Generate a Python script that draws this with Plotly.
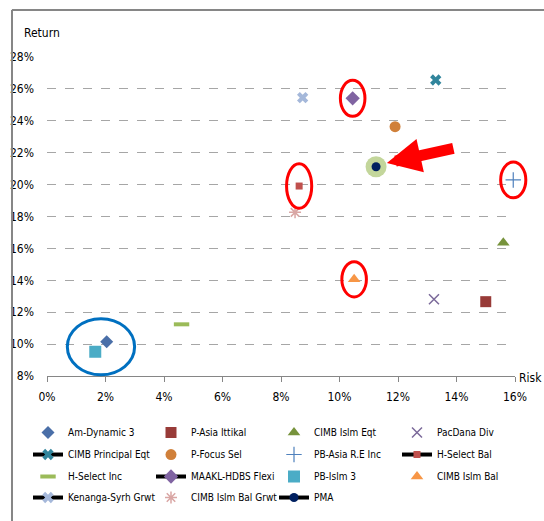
import plotly.graph_objects as go

# ---- data ----
fund_names = ["Am-Dynamic 3", "P-Asia Ittikal", "CIMB Islm Eqt", "PacDana Div",
              "CIMB Principal Eqt", "P-Focus Sel", "PB-Asia R.E Inc", "H-Select Bal",
              "H-Select Inc", "MAAKL-HDBS Flexi", "PB-Islm 3", "CIMB Islm Bal",
              "Kenanga-Syrh Grwt", "CIMB Islm Bal Grwt", "PMA"]
risk_pct = [2.04, 15.0, 15.6, 13.23, 13.29, 11.9, 15.94, 8.62,
            4.6, 10.45, 1.65, 10.5, 8.74, 8.48, 11.25]
return_pct = [10.15, 12.66, 16.36, 12.81, 26.56, 23.63, 20.29, 19.91,
              11.24, 25.41, 9.52, 14.06, 25.45, 18.26, 21.12]
x_ticks = [0, 2, 4, 6, 8, 10, 12, 14, 16]
y_ticks = [8, 10, 12, 14, 16, 18, 20, 22, 24, 26, 28]
X_RANGE = [0, 16]
Y_RANGE = [8, 28]

# ---- styles ----
styles = {
    "Am-Dynamic 3": dict(symbol="diamond", color="#4A6FA8", size=10),
    "P-Asia Ittikal": dict(symbol="square", color="#983B38", size=11),
    "CIMB Islm Eqt": dict(symbol="triangle-up", color="#77933C", size=11),
    "PacDana Div": dict(symbol="x-thin", color="#7B6A9A", size=10, lw=1.5),
    "CIMB Principal Eqt": dict(symbol="x", color="#31859C", size=10, line=True),
    "P-Focus Sel": dict(symbol="circle", color="#D0803A", size=11),
    "PB-Asia R.E Inc": dict(symbol="cross-thin", color="#4F81BD", size=11, lw=1.2),
    "H-Select Bal": dict(symbol="square", color="#C0504D", size=7, line=True),
    "H-Select Inc": dict(symbol="line-ew", color="#9BBB59", size=11, lw=4),
    "MAAKL-HDBS Flexi": dict(symbol="diamond", color="#8064A2", size=11, line=True),
    "PB-Islm 3": dict(symbol="square", color="#4BACC6", size=12),
    "CIMB Islm Bal": dict(symbol="triangle-up", color="#F79646", size=11),
    "Kenanga-Syrh Grwt": dict(symbol="x", color="#A5B8DA", size=10, line=True),
    "CIMB Islm Bal Grwt": dict(symbol="asterisk", color="#D9A6A4", size=10, lw=1.5),
    "PMA": dict(symbol="circle", color="#002060", size=9, line=True),
}

FONT = "DejaVu Sans Condensed, Liberation Sans Narrow, Liberation Sans, Arial, sans-serif"
fig = go.Figure()

legend_ids = ["legend", "legend2", "legend3", "legend4"]
for k, (name, rx, ry) in enumerate(zip(fund_names, risk_pct, return_pct)):
    st = styles[name]
    leg = legend_ids[k // 4]
    if name == "PMA":
        fig.add_trace(go.Scatter(x=[rx], y=[ry], mode="markers", showlegend=False,
                                 hoverinfo="skip", cliponaxis=False,
                                 marker=dict(symbol="circle", size=21, color="#C3D69B")))
    open_sym = st["symbol"] in ("x-thin", "cross-thin", "line-ew", "asterisk")
    marker = dict(symbol=st["symbol"], size=st["size"], color=st["color"])
    if open_sym:
        marker["line"] = dict(color=st["color"], width=st.get("lw", 1.5))
    else:
        marker["line"] = dict(width=0)
    mode = "lines+markers" if st.get("line") else "markers"
    fig.add_trace(go.Scatter(x=[rx], y=[ry], mode=mode, name=name, marker=marker,
                             legend=leg, cliponaxis=False,
                             line=dict(color="black", width=4)))


def px(v):
    return (v - X_RANGE[0]) / (X_RANGE[1] - X_RANGE[0])


def py(v):
    return (v - Y_RANGE[0]) / (Y_RANGE[1] - Y_RANGE[0])


# ---- annotation ellipses (paper coords so they are not clipped) ----
def ellipse(cx, cy, rxd, ryd, color):
    fig.add_shape(type="circle", xref="paper", yref="paper",
                  x0=px(cx - rxd), x1=px(cx + rxd), y0=py(cy - ryd), y1=py(cy + ryd),
                  line=dict(color=color, width=3))


idx = {n: i for i, n in enumerate(fund_names)}
for n, rxd, ryd in [("MAAKL-HDBS Flexi", 0.42, 1.13), ("H-Select Bal", 0.43, 1.4),
                    ("PB-Asia R.E Inc", 0.43, 1.12), ("CIMB Islm Bal", 0.42, 1.1)]:
    i = idx[n]
    ellipse(risk_pct[i], return_pct[i], rxd, ryd, "#FF0000")
a, b = idx["Am-Dynamic 3"], idx["PB-Islm 3"]
ellipse((risk_pct[a] + risk_pct[b]) / 2, (return_pct[a] + return_pct[b]) / 2, 1.15, 1.76, "#0070C0")

# arrow pointing to PMA
p = idx["PMA"]
fig.add_annotation(x=risk_pct[p] + 0.37, y=return_pct[p] + 0.23, xref="x", yref="y",
                   text="", showarrow=True, arrowhead=2, arrowsize=0.62, arrowwidth=11,
                   arrowcolor="#FF0000", ax=68, ay=-15, standoff=0)

# axis titles
fig.add_annotation(x=-0.053, y=1.075, xref="paper", yref="paper", text="Return",
                   showarrow=False, xanchor="left", yanchor="middle",
                   font=dict(size=12, color="#000000", family=FONT))
fig.add_annotation(x=1.004, y=-0.006, xref="paper", yref="paper", text="Risk",
                   showarrow=False, xanchor="left", yanchor="middle",
                   font=dict(size=12, color="#000000", family=FONT))

# outer frame (top and left borders)
fig.add_shape(type="line", xref="paper", yref="paper", x0=-0.075, x1=1.07, y0=1.147, y1=1.147,
              line=dict(color="#868686", width=2))
fig.add_shape(type="line", xref="paper", yref="paper", x0=-0.0748, x1=-0.0748, y0=1.147, y1=-0.46,
              line=dict(color="#868686", width=2))

leg_common = dict(orientation="h", x=-0.0406, xanchor="left", yanchor="top",
                  entrywidth=78, entrywidthmode="pixels",
                  font=dict(size=10, family=FONT, color="#000000"),
                  bgcolor="rgba(0,0,0,0)")
leg_tops = [-0.1317, -0.2007, -0.2696, -0.3355]

fig.update_layout(
    width=544, height=521,
    margin=dict(l=47, r=29, t=57, b=145, autoexpand=False),
    paper_bgcolor="white", plot_bgcolor="white",
    font=dict(family=FONT, size=12, color="#000000"),
    xaxis=dict(range=X_RANGE, tickvals=x_ticks, ticktext=[f"{v}%" for v in x_ticks],
               showgrid=False, zeroline=False, showline=True, linecolor="#868686",
               linewidth=1, ticks="outside", ticklen=5, tickcolor="#868686",
               ticklabelstandoff=5, automargin=False,
               tickfont=dict(size=12, family=FONT), fixedrange=True),
    yaxis=dict(range=Y_RANGE, tickvals=y_ticks, ticktext=[f"{v}%" for v in y_ticks],
               showgrid=True, gridcolor="#A6A6A6", griddash="dash", gridwidth=1,
               zeroline=False, showline=False, ticks="", ticklabelstandoff=12,
               automargin=False,
               tickfont=dict(size=12, family=FONT), fixedrange=True),
    showlegend=True,
    legend=dict(leg_common, y=leg_tops[0]),
    legend2=dict(leg_common, y=leg_tops[1]),
    legend3=dict(leg_common, y=leg_tops[2]),
    legend4=dict(leg_common, y=leg_tops[3]),
)

fig.write_html("out.html")
